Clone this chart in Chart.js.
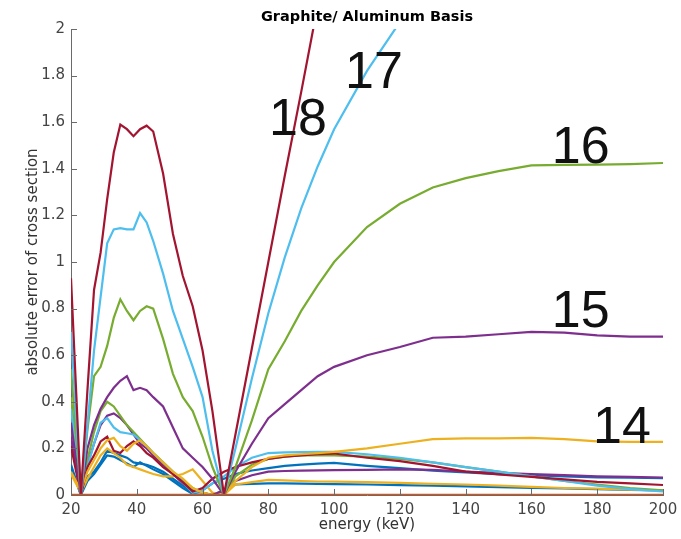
<!DOCTYPE html>
<html><head><meta charset="utf-8">
<script src="https://cdn.jsdelivr.net/npm/chart.js@4/dist/chart.umd.min.js"></script>
<style>html,body{margin:0;padding:0;background:#fff}</style>
</head><body>
<canvas id="c" width="681" height="539"></canvas>
<script>
// ---- data ----
const energy = [20, 23, 25, 27, 29, 31, 33, 35, 37, 39, 41, 43, 45, 48, 51, 54, 57, 60, 63, 66.5, 70, 75, 80, 85, 90, 95, 100, 110, 120, 130, 140, 150, 160, 170, 180, 190, 200];

const basis18 = [0.93, 0.0, 0.45, 0.88, 1.04, 1.27, 1.47, 1.59, 1.57, 1.54, 1.57, 1.585, 1.56, 1.38, 1.12, 0.94, 0.81, 0.62, 0.36, 0.0, 0.26, 0.63, 1.0, 1.37, 1.73, 2.1, 2.5, null, null, null, null, null, null, null, null, null, null];
const basis17 = [0.70, 0.0, 0.30, 0.62, 0.85, 1.08, 1.14, 1.145, 1.14, 1.14, 1.21, 1.17, 1.09, 0.95, 0.79, 0.67, 0.55, 0.42, 0.19, 0.0, 0.20, 0.50, 0.78, 1.02, 1.23, 1.41, 1.57, 1.82, 2.03, null, null, null, null, null, null, null, null];
const basis16 = [0.54, 0.0, 0.28, 0.51, 0.55, 0.64, 0.76, 0.84, 0.79, 0.75, 0.79, 0.81, 0.80, 0.67, 0.52, 0.42, 0.36, 0.25, 0.12, 0.0, 0.12, 0.32, 0.54, 0.66, 0.79, 0.90, 1.0, 1.15, 1.25, 1.32, 1.36, 1.39, 1.415, 1.417, 1.418, 1.42, 1.425];
const basis15 = [0.31, 0.0, 0.20, 0.30, 0.37, 0.42, 0.46, 0.49, 0.51, 0.45, 0.46, 0.45, 0.42, 0.38, 0.29, 0.20, 0.16, 0.12, 0.07, 0.0, 0.10, 0.22, 0.33, 0.39, 0.45, 0.51, 0.55, 0.60, 0.635, 0.675, 0.68, 0.69, 0.70, 0.697, 0.685, 0.68, 0.68];
const basis14 = [0.10, 0.02, 0.10, 0.15, 0.20, 0.235, 0.245, 0.21, 0.19, 0.22, 0.235, 0.21, 0.18, 0.14, 0.10, 0.07, 0.03, 0.01, 0.0, 0.0, 0.06, 0.12, 0.16, 0.17, 0.175, 0.18, 0.185, 0.20, 0.22, 0.24, 0.243, 0.243, 0.245, 0.24, 0.23, 0.228, 0.228];
const basis11 = [0.21, 0.0, 0.12, 0.17, 0.23, 0.25, 0.19, 0.18, 0.21, 0.23, 0.21, 0.18, 0.16, 0.12, 0.09, 0.055, 0.015, 0.03, 0.07, 0.10, 0.12, 0.14, 0.155, 0.165, 0.17, 0.175, 0.178, 0.16, 0.145, 0.125, 0.10, 0.088, 0.078, 0.067, 0.056, 0.05, 0.043];
const basis10 = [0.37, 0.0, 0.12, 0.22, 0.31, 0.33, 0.29, 0.27, 0.265, 0.26, 0.235, 0.21, 0.18, 0.14, 0.10, 0.055, 0.01, 0.02, 0.05, 0.08, 0.12, 0.16, 0.18, 0.183, 0.184, 0.185, 0.185, 0.175, 0.16, 0.14, 0.12, 0.10, 0.08, 0.06, 0.04, 0.025, 0.015];
const basis9 = [0.42, 0.0, 0.15, 0.27, 0.36, 0.40, 0.38, 0.34, 0.30, 0.27, 0.24, 0.21, 0.18, 0.14, 0.10, 0.06, 0.03, 0.01, 0.0, 0.0, 0.08, 0.13, 0.155, 0.165, 0.17, 0.17, 0.17, 0.165, 0.155, 0.14, 0.12, 0.10, 0.08, 0.06, 0.045, 0.03, 0.02];
const basis8 = [0.25, 0.0, 0.13, 0.22, 0.30, 0.34, 0.35, 0.33, 0.30, 0.26, 0.22, 0.20, 0.17, 0.13, 0.09, 0.05, 0.02, 0.01, 0.0, 0.02, 0.06, 0.085, 0.10, 0.103, 0.105, 0.106, 0.107, 0.108, 0.11, 0.108, 0.10, 0.095, 0.09, 0.085, 0.08, 0.078, 0.075];
const basis7 = [0.09, 0.01, 0.07, 0.12, 0.17, 0.20, 0.18, 0.16, 0.13, 0.12, 0.11, 0.10, 0.09, 0.08, 0.08, 0.09, 0.11, 0.06, 0.01, 0.0, 0.045, 0.055, 0.065, 0.063, 0.06, 0.058, 0.057, 0.055, 0.052, 0.048, 0.045, 0.04, 0.035, 0.03, 0.027, 0.023, 0.02];
const basis5 = [0.13, 0.0, 0.08, 0.10, 0.14, 0.19, 0.18, 0.17, 0.16, 0.14, 0.135, 0.13, 0.12, 0.10, 0.07, 0.04, 0.01, 0.02, 0.05, 0.07, 0.09, 0.105, 0.115, 0.125, 0.13, 0.135, 0.138, 0.125, 0.115, 0.105, 0.097, 0.09, 0.085, 0.08, 0.076, 0.074, 0.072];
const basis12 = [0.12, 0.0, 0.06, 0.09, 0.13, 0.17, 0.165, 0.15, 0.135, 0.12, 0.14, 0.125, 0.11, 0.09, 0.06, 0.03, 0.005, 0.0, 0.0, 0.02, 0.045, 0.048, 0.05, 0.05, 0.049, 0.048, 0.047, 0.045, 0.042, 0.04, 0.037, 0.034, 0.031, 0.028, 0.025, 0.022, 0.02];
const basis13 = [0, 0, 0, 0, 0, 0, 0, 0, 0, 0, 0, 0, 0, 0, 0, 0, 0, 0, 0, 0, 0, 0, 0, 0, 0, 0, 0, 0, 0, 0, 0, 0, 0, 0, 0, 0, 0];

const xTicks = [20, 40, 60, 80, 100, 120, 140, 160, 180, 200];
const yTicks = [0, 0.2, 0.4, 0.6, 0.8, 1, 1.2, 1.4, 1.6, 1.8, 2];

const labelText = ['18', '17', '16', '15', '14'];
const labelEnergy = [89.0, 112.1, 175.0, 175.0, 187.5];
const labelError = [1.545, 1.747, 1.425, 0.721, 0.223];

// ---- styling ----
const C = {blue:'#0072BD', orange:'#D95319', yellow:'#EDB120', purple:'#7E2F8E', green:'#77AC30', lblue:'#4DBEEE', dred:'#A2142F'};
const seriesList = [
  [basis13, C.orange, 2.6],
  [basis18, C.dred, 2.2],
  [basis17, C.lblue, 2.2],
  [basis16, C.green, 2.2],
  [basis15, C.purple, 2.2],
  [basis14, C.yellow, 2.2],
  [basis11, C.dred, 2.2],
  [basis10, C.lblue, 2.2],
  [basis9, C.green, 2.2],
  [basis8, C.purple, 2.2],
  [basis7, C.yellow, 2.2],
  [basis5, C.blue, 2.2],
  [basis12, C.blue, 2.2]
];
const datasets = seriesList.map(([vals, col, w]) => ({
  data: energy.map((e, i) => ({x: e, y: vals[i]})),
  borderColor: col, borderWidth: w, pointRadius: 0, tension: 0, fill: false, spanGaps: false
}));

const FONT = 'DejaVu Sans';
const axisColor = '#6a6a6a';

const inwardTicks = {
  id: 'inwardTicks',
  afterDatasetsDraw(chart) {
    const {ctx, scales: {x, y}, chartArea: a} = chart;
    ctx.save();
    ctx.strokeStyle = axisColor; ctx.lineWidth = 1;
    ctx.beginPath();
    yTicks.forEach(v => { const p = Math.round(y.getPixelForValue(v)) + 0.5; ctx.moveTo(a.left, p); ctx.lineTo(a.left + 6, p); });
    xTicks.forEach(v => { const p = Math.round(x.getPixelForValue(v)) + 0.5; ctx.moveTo(p, a.bottom); ctx.lineTo(p, a.bottom - 6); });
    ctx.stroke();
    ctx.restore();
  }
};
const curveLabels = {
  id: 'curveLabels',
  afterDraw(chart) {
    const {ctx, scales: {x, y}} = chart;
    ctx.save();
    ctx.fillStyle = '#111';
    ctx.font = '52px "Liberation Sans", Arial, sans-serif';
    ctx.textAlign = 'center';
    ctx.textBaseline = 'alphabetic';
    labelText.forEach((t, i) => ctx.fillText(t, x.getPixelForValue(labelEnergy[i]), y.getPixelForValue(labelError[i])));
    ctx.restore();
  }
};

new Chart(document.getElementById('c'), {
  type: 'line',
  data: {datasets},
  options: {
    responsive: false, animation: false, devicePixelRatio: 1,
    layout: {padding: {left: 0, right: 18, top: 0, bottom: 0}},
    plugins: {
      legend: {display: false}, tooltip: {enabled: false},
      title: {display: true, fullSize: false, text: 'Graphite/ Aluminum Basis', color: '#000',
        font: {family: FONT, size: 14.5, weight: 'bold'}, padding: {top: 8.3, bottom: 3.3}}
    },
    scales: {
      x: {
        type: 'linear', min: 20, max: 200,
        afterBuildTicks: s => { s.ticks = xTicks.map(v => ({value: v})); },
        ticks: {color: '#444', font: {family: FONT, size: 15}, padding: 6, maxRotation: 0, autoSkip: false},
        grid: {display: false, drawTicks: false},
        border: {display: true, color: axisColor, width: 1},
        title: {display: true, text: 'energy (keV)', color: '#333', font: {family: FONT, size: 15}, padding: {top: 0, bottom: 5}},
        afterFit: s => { s.height = 44; s.paddingLeft = 0; s.paddingRight = 0; }
      },
      y: {
        type: 'linear', min: 0, max: 2,
        afterBuildTicks: s => { s.ticks = yTicks.map(v => ({value: v})); },
        ticks: {color: '#444', font: {family: FONT, size: 15}, padding: 6, autoSkip: false,
          callback: v => String(+Number(v).toFixed(1))},
        grid: {display: false, drawTicks: false},
        border: {display: true, color: axisColor, width: 1},
        title: {display: true, text: 'absolute error of cross section', color: '#333', font: {family: FONT, size: 15}, padding: {top: 24, bottom: 0}},
        afterFit: s => { s.width = 71; s.paddingTop = 0; s.paddingBottom = 0; }
      }
    }
  },
  plugins: [inwardTicks, curveLabels]
});
</script>
</body></html>
